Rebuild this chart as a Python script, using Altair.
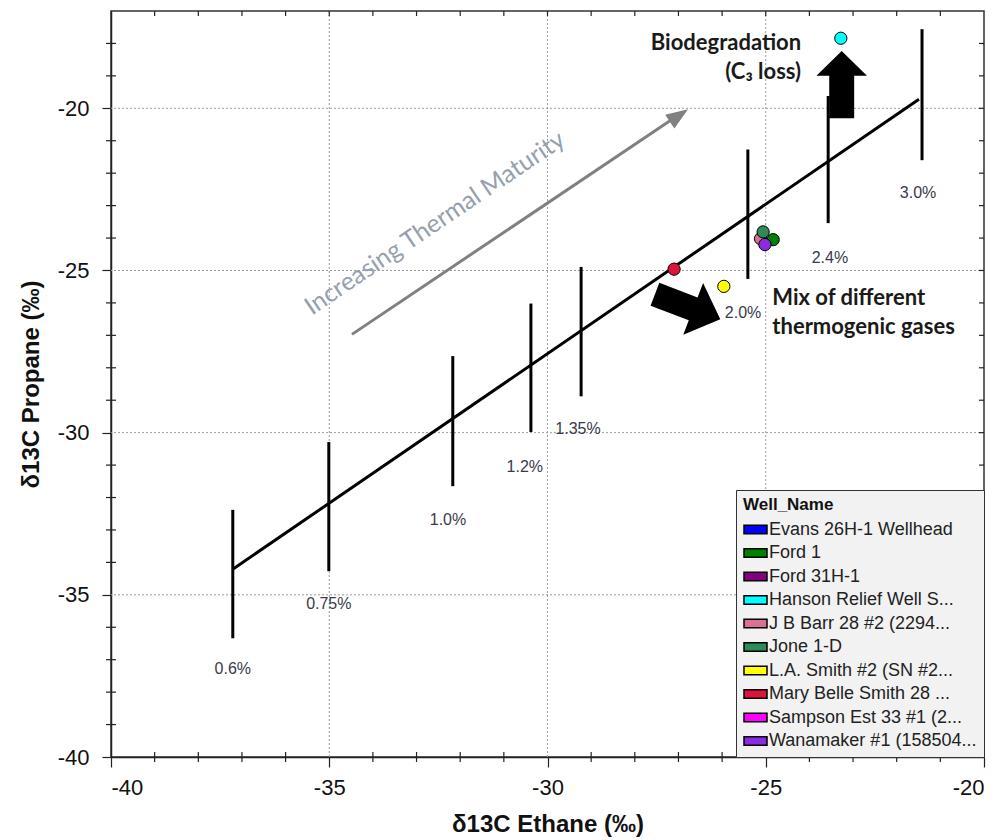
import altair as alt
import pandas as pd

# ---------------- data ----------------
well_names = [
    "Evans 26H-1 Wellhead", "Ford 1", "Ford 31H-1", "Hanson Relief Well S...",
    "J B Barr 28 #2 (2294...", "Jone 1-D", "L.A. Smith #2 (SN #2...",
    "Mary Belle Smith 28 ...", "Sampson Est 33 #1 (2...", "Wanamaker #1 (158504...",
]
well_colors = ["#0000ff", "#008000", "#800080", "#00ffff", "#db7093",
               "#2e8b57", "#ffff00", "#dc143c", "#ff00ff", "#8a2be2"]

pt_well = ["J B Barr 28 #2 (2294...", "Ford 1", "Jone 1-D", "Wanamaker #1 (158504...",
           "L.A. Smith #2 (SN #2...", "Mary Belle Smith 28 ...", "Hanson Relief Well S..."]
pt_ethane = [-25.12, -24.83, -25.06, -25.02, -25.96, -27.10, -23.28]
pt_propane = [-24.02, -24.05, -23.81, -24.20, -25.49, -24.96, -17.84]

trend_x = [-37.21, -21.49]
trend_y = [-34.21, -19.72]

mat_label = ["0.6%", "0.75%", "1.0%", "1.2%", "1.35%", "2.0%", "2.4%", "3.0%"]
mat_x = [-37.21, -35.01, -32.17, -30.38, -29.23, -25.41, -23.57, -21.42]
mat_top = [-32.38, -30.29, -27.64, -26.02, -24.89, -21.27, -19.62, -17.56]
mat_bot = [-36.34, -34.27, -31.65, -29.98, -28.88, -25.26, -23.54, -21.60]
mat_lx = [-37.21, -35.01, -32.28, -30.52, -29.30, -25.52, -23.53, -21.51]
mat_ly = [-37.30, -35.29, -32.70, -31.06, -29.90, -26.32, -24.63, -22.62]

thermal_x = [-34.48, -27.10]
thermal_y = [-26.97, -20.30]
thermal_head = (-26.99, -20.22)
thermal_text = "Increasing Thermal Maturity"
thermal_text_pos = (-32.58, -23.54)

bio_arrow = (-23.26, -19.27)
mix_arrow = (-26.79, -26.12)
bio_text = ["Biodegradation", "(C\u2083 loss)"]
bio_text_x = [-24.19, -24.19]
bio_text_y = [-18.00, -18.89]
mix_text = ["Mix of different", "thermogenic gases"]
mix_text_x = [-24.85, -24.85]
mix_text_y = [-25.86, -26.75]

x_major = [-40, -35, -30, -25, -20]
y_major = [-40, -35, -30, -25, -20]
grid_x = [-35, -30, -25]
grid_y = [-35, -30, -25, -20]

X_MIN, X_MAX = -40, -20
Y_MIN, Y_MAX = -40, -17
W, H = 873, 746

# ---------------- frames ----------------
pts = pd.DataFrame({"well": pt_well, "x": pt_ethane, "y": pt_propane})
trend = pd.DataFrame({"x": trend_x, "y": trend_y})
mat = pd.DataFrame({"label": mat_label, "x": mat_x, "top": mat_top, "bot": mat_bot,
                    "lx": mat_lx, "ly": mat_ly})
therm = pd.DataFrame({"x": thermal_x, "y": thermal_y})

# frame minor ticks: crossing on bottom/left, inward on top/right
dx5 = 5 * (X_MAX - X_MIN) / W
dy5 = 5 * (Y_MAX - Y_MIN) / H
rows = []
for v in range(X_MIN + 1, X_MAX):
    if v % 5 != 0:
        rows.append({"x": v, "x2": v, "y": Y_MIN - dy5, "y2": Y_MIN + dy5})
    rows.append({"x": v, "x2": v, "y": Y_MAX, "y2": Y_MAX - dy5})
for v in range(Y_MIN + 1, Y_MAX):
    if v % 5 != 0:
        rows.append({"x": X_MIN - dx5, "x2": X_MIN + dx5, "y": v, "y2": v})
    rows.append({"x": X_MAX, "x2": X_MAX - dx5, "y": v, "y2": v})
ticks_in = pd.DataFrame(rows)

xs = alt.Scale(domain=[X_MIN, X_MAX], nice=False, zero=False)
ys = alt.Scale(domain=[Y_MIN, Y_MAX], nice=False, zero=False)

x_axis = alt.Axis(
    title="\u03b413C Ethane (\u2030)", values=x_major,
    labelExpr="'' + datum.value", grid=False, tickSize=10,
    labelOverlap=False, labelPadding=10, titlePadding=14,
)
y_axis = alt.Axis(
    title="\u03b413C Propane (\u2030)", values=y_major,
    labelExpr="'' + datum.value", grid=False, tickSize=9,
    labelOverlap=False, labelPadding=13, titlePadding=14,
)


def X(field):
    return alt.X(field, scale=xs, axis=x_axis)


def Y(field):
    return alt.Y(field, scale=ys, axis=y_axis)


gx = alt.Chart(pd.DataFrame({"g": grid_x})).mark_rule(
    color="#9a9a9a", strokeDash=[2, 2], strokeWidth=1).encode(x=X("g:Q"))
gy = alt.Chart(pd.DataFrame({"g": grid_y})).mark_rule(
    color="#9a9a9a", strokeDash=[2, 2], strokeWidth=1).encode(y=Y("g:Q"))

tick_layer = alt.Chart(ticks_in).mark_rule(color="#222", strokeWidth=1.2).encode(
    x=X("x:Q"), x2="x2:Q", y=Y("y:Q"), y2="y2:Q")

bars = alt.Chart(mat).mark_rule(color="black", strokeWidth=3).encode(
    x=X("x:Q"), y=Y("top:Q"), y2="bot:Q")

bar_labels = alt.Chart(mat).mark_text(font="Liberation Sans", fontSize=16,
                                      color="#3a3a4c").encode(
    x=X("lx:Q"), y=Y("ly:Q"), text="label:N")

trend_line = alt.Chart(trend).mark_line(color="black", strokeWidth=3).encode(
    x=X("x:Q"), y=Y("y:Q"))

therm_line = alt.Chart(therm).mark_line(color="#808080", strokeWidth=3).encode(
    x=X("x:Q"), y=Y("y:Q"))

therm_head = alt.Chart(pd.DataFrame({"x": [thermal_head[0]], "y": [thermal_head[1]]})).mark_point(
    shape="M0,-1 L0.75,1 L-0.75,1 Z", filled=True, color="#808080", opacity=1,
    size=484, angle=56, strokeWidth=0).encode(x=X("x:Q"), y=Y("y:Q"))

therm_txt = alt.Chart(pd.DataFrame({"x": [thermal_text_pos[0]], "y": [thermal_text_pos[1]],
                                    "t": [thermal_text]})).mark_text(
    font="Lato", fontSize=25, color="#95a0ad", angle=326).encode(
    x=X("x:Q"), y=Y("y:Q"), text="t:N")

bio_arr = alt.Chart(pd.DataFrame({"x": [bio_arrow[0]], "y": [bio_arrow[1]]})).mark_point(
    shape="M0,-1 L0.75,-0.26 L0.37,-0.26 L0.37,1 L-0.37,1 L-0.37,-0.26 L-0.75,-0.26 Z",
    filled=True, color="black", opacity=1, size=4543, strokeWidth=0).encode(
    x=X("x:Q"), y=Y("y:Q"))

mix_arr = alt.Chart(pd.DataFrame({"x": [mix_arrow[0]], "y": [mix_arrow[1]]})).mark_point(
    shape="M0,-1 L0.79,-0.17 L0.35,-0.17 L0.35,1 L-0.35,1 L-0.35,-0.17 L-0.79,-0.17 Z",
    filled=True, color="black", opacity=1, size=4900, angle=111, strokeWidth=0).encode(
    x=X("x:Q"), y=Y("y:Q"))

bio_txt = alt.Chart(pd.DataFrame({"x": bio_text_x, "y": bio_text_y, "t": bio_text})).mark_text(
    font="Lato", fontSize=22, fontWeight="bold", color="#1a1a1a", align="right").encode(
    x=X("x:Q"), y=Y("y:Q"), text="t:N")

mix_txt = alt.Chart(pd.DataFrame({"x": mix_text_x, "y": mix_text_y, "t": mix_text})).mark_text(
    font="Lato", fontSize=22, fontWeight="bold", color="#1a1a1a", align="left").encode(
    x=X("x:Q"), y=Y("y:Q"), text="t:N")

points = alt.Chart(pts).mark_point(filled=True, size=150, opacity=1, stroke="black",
                                   strokeWidth=1).encode(
    x=X("x:Q"), y=Y("y:Q"),
    color=alt.Color("well:N", scale=alt.Scale(domain=well_names, range=well_colors),
                    sort=well_names,
                    legend=alt.Legend(
                        title="Well_Name", orient="bottom-right", offset=0,
                        fillColor="#f2f2f2", strokeColor="#333333", padding=7,
                        symbolType="M-1,-0.36 L1,-0.36 L1,0.36 L-1,0.36 Z",
                        symbolSize=529, symbolStrokeColor="black", symbolStrokeWidth=1.5,
                        symbolOpacity=1, labelOffset=1,
                        titleFont="Liberation Sans", titleFontSize=17, titleFontWeight="bold",
                        titleColor="#111", titlePadding=3,
                        labelFont="Liberation Sans", labelFontSize=18, labelColor="#222",
                        labelLimit=260, rowPadding=1.5,
                    )),
)

chart = alt.layer(
    gx, gy, tick_layer, therm_line, therm_head, therm_txt, trend_line, bars,
    bar_labels, bio_arr, mix_arr, bio_txt, mix_txt, points,
).properties(
    width=W, height=H,
    background="white",
    autosize=alt.AutoSizeParams(type="none"),
    padding={"left": 111, "top": 11, "right": 19, "bottom": 83},
).configure_view(
    stroke="#333333", strokeWidth=1.5,
).configure_axis(
    labelFont="Liberation Sans", labelFontSize=22, labelColor="#111", labelOverlap=False,
    titleFont="Liberation Sans", titleFontSize=24, titleFontWeight="bold", titleColor="#111",
    tickColor="#222", tickWidth=1.2, domainColor="#222", domainWidth=1.5,
)

chart.save("out.html", embed_options={"renderer": "svg", "actions": False})
